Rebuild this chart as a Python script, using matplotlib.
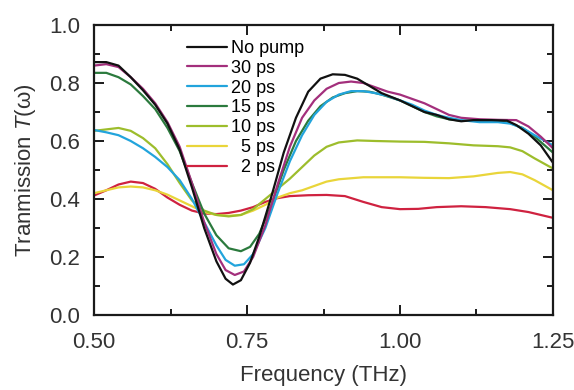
import matplotlib
matplotlib.use("Agg")
import matplotlib.pyplot as plt
from matplotlib.ticker import MultipleLocator

# frequency (THz) and transmission, one list per pump delay
f_nopump = [0.50, 0.52, 0.54, 0.56, 0.58, 0.60, 0.62, 0.64, 0.66, 0.68, 0.70, 0.715, 0.727, 0.74, 0.755,
            0.77, 0.79, 0.81, 0.83, 0.85, 0.87, 0.89, 0.91, 0.93, 0.95, 0.97, 1.00, 1.02, 1.04, 1.06,
            1.08, 1.10, 1.12, 1.15, 1.175, 1.19, 1.21, 1.23, 1.25]
t_nopump = [0.872, 0.872, 0.86, 0.82, 0.775, 0.725, 0.66, 0.57, 0.44, 0.30, 0.185, 0.125, 0.105, 0.12, 0.18,
            0.27, 0.41, 0.56, 0.68, 0.77, 0.815, 0.83, 0.828, 0.815, 0.79, 0.765, 0.74, 0.72, 0.70, 0.69,
            0.675, 0.668, 0.672, 0.672, 0.67, 0.655, 0.625, 0.585, 0.525]

f_30 = [0.50, 0.52, 0.54, 0.56, 0.58, 0.60, 0.62, 0.64, 0.66, 0.68, 0.70, 0.715, 0.73, 0.745, 0.76,
        0.78, 0.80, 0.82, 0.84, 0.86, 0.88, 0.90, 0.92, 0.94, 0.96, 0.98, 1.00, 1.02, 1.04, 1.06,
        1.08, 1.10, 1.13, 1.16, 1.19, 1.21, 1.23, 1.25]
t_30 = [0.86, 0.865, 0.855, 0.82, 0.78, 0.73, 0.665, 0.58, 0.455, 0.32, 0.21, 0.155, 0.138, 0.15, 0.20,
        0.31, 0.45, 0.58, 0.68, 0.74, 0.78, 0.80, 0.805, 0.80, 0.785, 0.77, 0.76, 0.745, 0.73, 0.71,
        0.69, 0.68, 0.675, 0.673, 0.672, 0.65, 0.615, 0.575]

f_20 = [0.50, 0.52, 0.54, 0.56, 0.58, 0.60, 0.62, 0.64, 0.66, 0.68, 0.70, 0.715, 0.73, 0.745, 0.76,
        0.78, 0.80, 0.82, 0.84, 0.86, 0.88, 0.90, 0.92, 0.94, 0.96, 0.98, 1.00, 1.02, 1.04, 1.06,
        1.08, 1.10, 1.13, 1.16, 1.18, 1.20, 1.22, 1.25]
t_20 = [0.638, 0.63, 0.62, 0.60, 0.575, 0.545, 0.51, 0.465, 0.40, 0.32, 0.24, 0.19, 0.17, 0.175, 0.21,
        0.30, 0.42, 0.53, 0.62, 0.69, 0.735, 0.76, 0.772, 0.772, 0.765, 0.755, 0.74, 0.725, 0.705, 0.69,
        0.68, 0.672, 0.665, 0.665, 0.66, 0.645, 0.62, 0.585]

f_15 = [0.50, 0.52, 0.54, 0.56, 0.58, 0.60, 0.62, 0.64, 0.66, 0.68, 0.70, 0.72, 0.74, 0.755, 0.77,
        0.79, 0.81, 0.83, 0.85, 0.87, 0.89, 0.91, 0.93, 0.95, 0.97, 1.00, 1.02, 1.04, 1.06, 1.08,
        1.10, 1.13, 1.16, 1.18, 1.20, 1.22, 1.25]
t_15 = [0.835, 0.835, 0.82, 0.795, 0.755, 0.71, 0.645, 0.565, 0.455, 0.35, 0.275, 0.23, 0.22, 0.235, 0.28,
        0.38, 0.50, 0.60, 0.67, 0.72, 0.75, 0.765, 0.772, 0.77, 0.76, 0.74, 0.72, 0.70, 0.685, 0.675,
        0.67, 0.67, 0.668, 0.662, 0.645, 0.615, 0.56]

f_10 = [0.50, 0.52, 0.54, 0.56, 0.58, 0.60, 0.62, 0.64, 0.66, 0.68, 0.70, 0.72, 0.74, 0.76, 0.78,
        0.80, 0.82, 0.84, 0.86, 0.88, 0.90, 0.93, 0.96, 1.00, 1.04, 1.08, 1.12, 1.16, 1.18, 1.20,
        1.22, 1.25]
t_10 = [0.635, 0.64, 0.645, 0.635, 0.61, 0.575, 0.52, 0.455, 0.395, 0.36, 0.345, 0.34, 0.345, 0.365, 0.40,
        0.435, 0.47, 0.51, 0.55, 0.58, 0.595, 0.602, 0.60, 0.598, 0.597, 0.592, 0.585, 0.582, 0.578, 0.565,
        0.54, 0.505]

f_5 = [0.50, 0.52, 0.54, 0.56, 0.58, 0.60, 0.62, 0.64, 0.66, 0.68, 0.70, 0.72, 0.74, 0.76, 0.78,
       0.80, 0.82, 0.84, 0.86, 0.88, 0.90, 0.94, 1.00, 1.04, 1.08, 1.12, 1.16, 1.18, 1.20, 1.22, 1.25]
t_5 = [0.42, 0.43, 0.44, 0.443, 0.44, 0.43, 0.415, 0.395, 0.375, 0.355, 0.345, 0.342, 0.345, 0.36, 0.38,
       0.405, 0.42, 0.43, 0.445, 0.46, 0.468, 0.475, 0.475, 0.473, 0.472, 0.478, 0.49, 0.493, 0.485, 0.465, 0.43]

f_2 = [0.50, 0.52, 0.54, 0.56, 0.58, 0.60, 0.62, 0.64, 0.66, 0.68, 0.70, 0.72, 0.74, 0.76, 0.78,
       0.80, 0.82, 0.85, 0.88, 0.91, 0.94, 0.97, 1.00, 1.03, 1.06, 1.10, 1.14, 1.18, 1.21, 1.25]
t_2 = [0.412, 0.43, 0.45, 0.46, 0.455, 0.435, 0.405, 0.38, 0.36, 0.35, 0.348, 0.352, 0.36, 0.372, 0.39,
       0.403, 0.41, 0.413, 0.414, 0.41, 0.39, 0.372, 0.365, 0.366, 0.372, 0.375, 0.372, 0.365, 0.355, 0.335]

labels = ["No pump", "30 ps", "20 ps", "15 ps", "10 ps", "  5 ps", "  2 ps"]
colors = ["#111111", "#a32f7c", "#22a4dc", "#2b7a3d", "#9dbd2c", "#e9d53a", "#cf2240"]
series = [(f_nopump, t_nopump), (f_30, t_30), (f_20, t_20), (f_15, t_15),
          (f_10, t_10), (f_5, t_5), (f_2, t_2)]

plt.rcParams.update({"font.family": ["Liberation Sans", "DejaVu Sans"],
                     "mathtext.fontset": "custom", "mathtext.it": "Liberation Sans:italic",
                     "mathtext.rm": "Liberation Sans"})

fig = plt.figure(figsize=(5.74, 3.90), dpi=100)
ax = fig.add_axes([0.1638, 0.1923, 0.7996, 0.7436])

# draw back-to-front so the no-pump trace sits on top like the reference
for (f, t), lab, c in reversed(list(zip(series, labels, colors))):
    ax.plot(f, t, color=c, lw=1.6, label=lab, solid_capstyle="round")

ax.set_xlim(0.5, 1.25); ax.set_ylim(0.0, 1.0)
ax.xaxis.set_major_locator(MultipleLocator(0.25)); ax.xaxis.set_minor_locator(MultipleLocator(0.125))
ax.yaxis.set_major_locator(MultipleLocator(0.2)); ax.yaxis.set_minor_locator(MultipleLocator(0.1))
ax.xaxis.set_major_formatter(matplotlib.ticker.FormatStrFormatter("%.2f"))
ax.yaxis.set_major_formatter(matplotlib.ticker.FormatStrFormatter("%.1f"))
ax.tick_params(which="both", direction="in", top=True, right=True, width=1.4, colors="#1a1a1a")
ax.tick_params(which="major", length=7, labelsize=16, labelcolor="#333333")
ax.tick_params(axis="x", which="major", pad=12)
ax.tick_params(axis="y", which="major", pad=10)
ax.tick_params(which="minor", length=4)
for s in ax.spines.values():
    s.set_linewidth(1.6); s.set_color("#1a1a1a")

ax.set_xlabel("Frequency (THz)", fontsize=16, labelpad=9, color="#333333")
ax.set_ylabel("Tranmission $T$(ω)", fontsize=16, labelpad=8, color="#333333")

h, l = ax.get_legend_handles_labels()
ax.legend(h[::-1], l[::-1], loc="upper left", bbox_to_anchor=(0.183, 0.98), frameon=False,
          fontsize=13, handlelength=2.2, handletextpad=0.25, labelspacing=0.16, borderpad=0)

fig.savefig("out.png", dpi=100)
